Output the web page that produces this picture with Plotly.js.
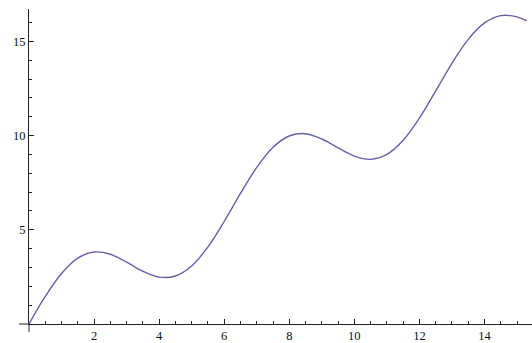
<!DOCTYPE html>
<html><head><meta charset="utf-8">
<script src="https://cdn.plot.ly/plotly-3.0.1.min.js"></script>
<style>html,body{margin:0;padding:0;background:#fff}#plot{width:532px;height:343px}</style>
</head><body><div id="plot"></div>
<script>
const xValues = [0,0.5,1,1.5,2,2.5,3,3.5,4,4.5,5,5.5,6,6.5,7,7.5,8,8.5,9,9.5,10,10.5,11,11.5,12,12.5,13,13.5,14,14.5,15,15.3];
const yValues = [0,1.46,2.68,3.50,3.82,3.70,3.28,2.80,2.49,2.55,3.08,4.09,5.44,6.93,8.31,9.38,9.98,10.10,9.82,9.35,8.91,8.74,9.00,9.75,10.93,12.37,13.84,15.11,15.98,16.37,16.30,16.09];
const xTicks = [2,4,6,8,10,12,14];
const yTicks = [5,10,15];

const axisColor = '#222';
const fontDef = {family: 'Liberation Serif, Times New Roman, serif', size: 12.5, color: '#111'};

Plotly.newPlot('plot', [{
  x: xValues, y: yValues, type: 'scatter', mode: 'lines',
  line: {color: '#6262aa', width: 1.4, shape: 'spline', smoothing: 1},
  hoverinfo: 'skip'
}], {
  width: 532, height: 343,
  margin: {l: 29, r: 0, t: 9, b: 19, pad: 0},
  paper_bgcolor: '#fff', plot_bgcolor: '#fff',
  showlegend: false,
  xaxis: {
    range: [0, 15.46], showgrid: false, zeroline: false,
    showline: true, linecolor: axisColor, linewidth: 1,
    tickmode: 'array', tickvals: xTicks, ticktext: xTicks.map(String),
    ticks: 'inside', ticklen: 5, tickcolor: axisColor, tickwidth: 1,
    minor: {dtick: 0.5, tick0: 0, ticks: 'inside', ticklen: 3, tickcolor: axisColor, showgrid: false},
    tickfont: fontDef, fixedrange: true
  },
  yaxis: {
    range: [0, 16.72], showgrid: false, zeroline: false,
    showline: true, linecolor: axisColor, linewidth: 1,
    tickmode: 'array', tickvals: yTicks, ticktext: yTicks.map(String),
    ticks: 'inside', ticklen: 5, tickcolor: axisColor, tickwidth: 1,
    minor: {dtick: 1, tick0: 0, ticks: 'inside', ticklen: 3, tickcolor: axisColor, showgrid: false},
    tickfont: fontDef, fixedrange: true
  },
  shapes: [
    {type: 'line', xref: 'paper', yref: 'paper', x0: -0.02, x1: 0, y0: 0, y1: 0, line: {color: axisColor, width: 1}},
    {type: 'line', xref: 'paper', yref: 'paper', x0: 0, x1: 0, y0: -0.025, y1: 0, line: {color: axisColor, width: 1}}
  ]
}, {staticPlot: true, displayModeBar: false});
</script></body></html>
